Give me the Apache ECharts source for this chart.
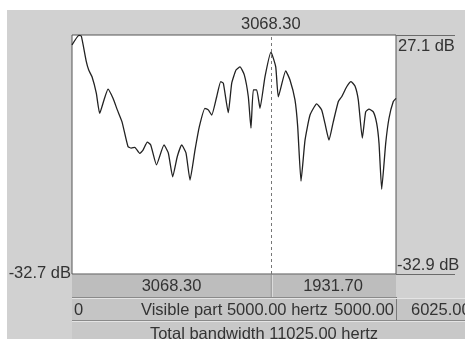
<!DOCTYPE html>
<html><head><meta charset="utf-8">
<script src="https://cdn.jsdelivr.net/npm/echarts@6/dist/echarts.min.js"></script>
<style>html,body{margin:0;padding:0;background:#fff}#c{width:465px;height:339px}</style>
</head><body><div id="c"></div>
<script>
// ---- data ----
const freqHz = [0,108,144,221,258,309,375,427,494,556,633,699,772,864,915,968,1045,1096,1162,1215,1304,1420,1486,1554,1625,1693,1759,1821,1898,1965,2052,2103,2156,2233,2295,2335,2412,2465,2531,2593,2659,2721,2762,2798,2850,2901,2978,3071,3144,3184,3298,3364,3441,3483,3534,3596,3673,3776,3853,3904,3966,4032,4110,4162,4239,4306,4367,4418,4480,4532,4583,4650,4702,4738,4779,4841,4892,4958,5000];
const levelDb = [24.6,27.0,26.8,20.4,18.3,16.6,12.5,7.4,10.8,13.5,11.2,8.3,5.3,-0.9,-1.3,-1.1,-2.6,-1.8,0.2,-0.5,-5.5,-0.5,-2.5,-8.5,-3.4,-0.5,-2.5,-9.3,-1.8,4.1,8.7,8.3,7.0,11.6,15.4,15.0,7.6,15.0,18.3,19.1,17.1,11.6,3.7,13.3,13.3,8.7,16.6,22.8,19.1,11.6,18.1,15.8,10.8,4.1,-9.6,0.7,7.0,9.8,8.3,4.9,0.7,5.3,10.4,11.6,14.1,15.4,14.3,10.8,1.2,7.8,8.5,7.8,4.9,-0.1,-11.6,-0.1,6.2,10.4,11.2];
const cursorHz = 3068.30;
const visibleHz = 5000.00;
const totalHz = 11025.00;
const restHz = 6025.00;
const topDbLabel = "27.1 dB";
const bottomDbLabel = "-32.9 dB";
const leftDbLabel = "-32.7 dB";
const yMax = 27.1, yMin = -32.9;

// ---- layout ----
const GL = 72, GT = 35, GW = 324, GH = 239;
const GR = GL + GW, GB = GT + GH;
const FONT = '"Liberation Sans", Arial, sans-serif';
const TXT = '#333333';
const NUM = 16.5;

const chart = echarts.init(document.getElementById('c'), null, {renderer: 'canvas'});
const data = freqHz.map((f, i) => [f, levelDb[i]]);
const cursorX = GL + (cursorHz / visibleHz) * GW;
const remHz = visibleHz - cursorHz;

function txt(x, y, s, align, vAlign, size) {
  return {type: 'text', x: x, y: y, z: 20, style: {text: s, fill: TXT, font: (size || NUM) + 'px ' + FONT, textAlign: align || 'center', textVerticalAlign: vAlign || 'middle'}};
}
function rect(x, y, w, h, fill, z) {
  return {type: 'rect', shape: {x: x, y: y, width: w, height: h}, z: z || 1, style: {fill: fill}, silent: true};
}
function ln(x1, y1, x2, y2, c, z) {
  return {type: 'line', shape: {x1: x1, y1: y1, x2: x2, y2: y2}, z: z || 5, style: {stroke: c, lineWidth: 1}, silent: true};
}

const graphics = [
  rect(7, 10, 458, 329, '#d1d1d1', -10),
  // row 1
  rect(GL, GB + 1, GW, 22, '#bdbdbd', 2),
  ln(cursorX + 0.5, GB, cursorX + 0.5, GB + 23, '#8a8a8a'),
  ln(cursorX + 1.5, GB + 1, cursorX + 1.5, GB + 23, '#e2e2e2'),
  ln(GL, GB + 23.5, GR, GB + 23.5, '#8a8a8a'),
  // row 2
  rect(GL, GB + 24, GR - GL, 22, '#c5c5c5', 2),
  rect(GR + 1, GB + 24, 465 - GR, 22, '#c5c5c5', 2),
  ln(GR + 0.5, GB + 23, GR + 0.5, GB + 46, '#7a7a7a'),
  ln(GL, GB + 46.5, 465, GB + 46.5, '#8a8a8a'),
  ln(GL, GB + 24.5, 465, GB + 24.5, '#e4e4e4'),
  // row 3
  rect(GL, GB + 48, 465 - GL, 20, '#c8c8c8', 2),
  ln(GL, GB + 47.5, 465, GB + 47.5, '#e4e4e4'),
  // right side lines
  ln(GR, GT + 0.5, 455, GT + 0.5, '#6a6a6a'),
  ln(GR, GB + 0.5, 455, GB + 0.5, '#6a6a6a'),
  // texts
  txt(cursorX, 24, cursorHz.toFixed(2)),
  txt(GR + 2, GT + 11, topDbLabel, 'left'),
  txt(GR + 1, GB - 9, bottomDbLabel, 'left'),
  txt(GL - 1, GB - 0.5, leftDbLabel, 'right'),
  txt(171.5, GB + 12, cursorHz.toFixed(2)),
  txt(333, GB + 12, remHz.toFixed(2)),
  txt(GL + 2, GB + 36, '0', 'left'),
  txt(141, GB + 36, 'Visible part ' + visibleHz.toFixed(2) + ' hertz', 'left'),
  txt(GR - 2, GB + 36, visibleHz.toFixed(2), 'right'),
  txt(GR + 15, GB + 36, restHz.toFixed(2), 'left'),
  txt(264, GB + 60, 'Total bandwidth ' + totalHz.toFixed(2) + ' hertz')
];

chart.setOption({
  backgroundColor: '#ffffff',
  animation: false,
  grid: {left: GL, top: GT, width: GW, height: GH, show: true, backgroundColor: '#ffffff', borderColor: '#555555', borderWidth: 1},
  xAxis: {type: 'value', min: 0, max: visibleHz, show: false},
  yAxis: {type: 'value', min: yMin, max: yMax, show: false},
  series: [{
    type: 'line', data: data, showSymbol: false, symbol: 'none', smooth: 0.15,
    lineStyle: {color: '#222222', width: 1.3}, z: 3,
    markLine: {
      silent: true, symbol: 'none', animation: false,
      lineStyle: {type: [3, 3], color: '#777777', width: 1},
      label: {show: false},
      data: [{xAxis: cursorHz}]
    }
  }],
  graphic: graphics
});
</script></body></html>
